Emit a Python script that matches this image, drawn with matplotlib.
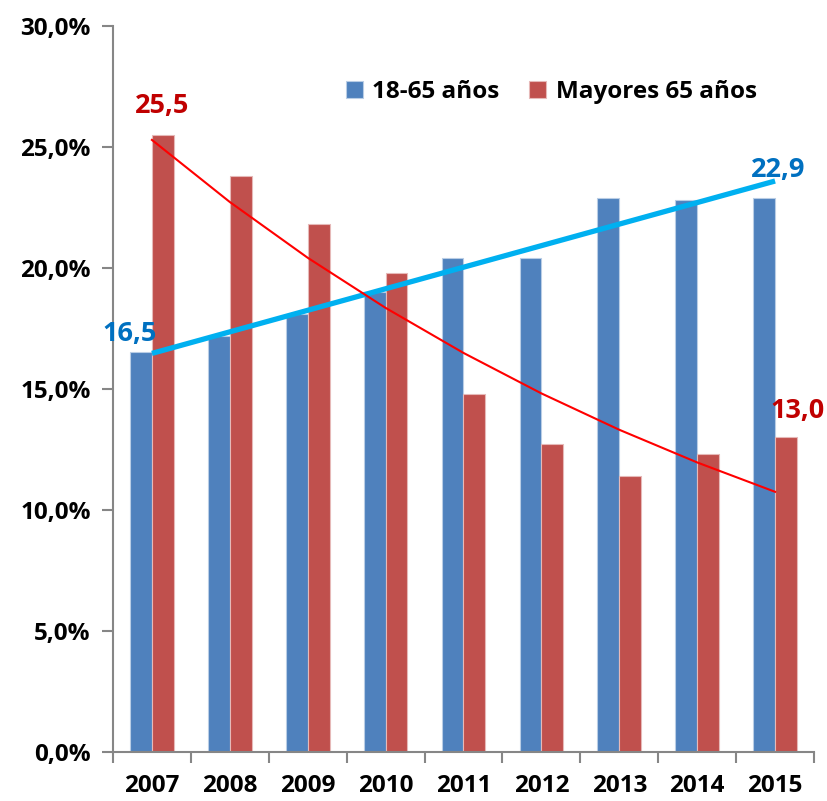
import matplotlib
matplotlib.use("Agg")
import matplotlib.pyplot as plt
import numpy as np
from matplotlib.ticker import FixedLocator, FuncFormatter

years = ["2007", "2008", "2009", "2010", "2011", "2012", "2013", "2014", "2015"]
adults = [16.5, 17.2, 18.1, 19.0, 20.4, 20.4, 22.9, 22.8, 22.9]
seniors = [25.5, 23.8, 21.8, 19.8, 14.8, 12.7, 11.4, 12.3, 13.0]
series_names = ["18-65 años", "Mayores 65 años"]

FONT = ['Open Sans', 'DejaVu Sans']
plt.rcParams['font.family'] = FONT
plt.rcParams['font.weight'] = 'bold'

fig = plt.figure(figsize=(8.27, 8.01), dpi=100)
ax = fig.add_axes([0.1366, 0.0612, 0.8477, 0.9068])

x = np.arange(len(years))
w = 0.28
ax.bar(x - w / 2, adults, w, color="#4F81BD", edgecolor="#B9CDE5", linewidth=0.8,
       label=series_names[0], zorder=2)
ax.bar(x + w / 2, seniors, w, color="#C0504D", edgecolor="#E6B9B8", linewidth=0.8,
       label=series_names[1], zorder=2)

# Trend lines (Excel-style): linear for adults, exponential for seniors
pa = np.polyfit(x, adults, 1)
ax.plot(x, np.polyval(pa, x), color="#00B0F0", linewidth=3.8, zorder=3,
        solid_capstyle="butt")
ps = np.polyfit(x, np.log(seniors), 1)
ax.plot(x, np.exp(np.polyval(ps, x)), color="#FF0000", linewidth=1.5, zorder=3)

# Data labels
lab_kw = dict(fontsize=19.5, fontweight="bold", ha="center", va="center")
ax.text(x[0] + 0.13, seniors[0] + 1.2, f"{seniors[0]:.1f}".replace(".", ","),
        color="#C00000", **lab_kw)
ax.text(x[-1] + 0.29, seniors[-1] + 1.1, f"{seniors[-1]:.1f}".replace(".", ","),
        color="#C00000", **lab_kw)
ax.text(x[0] - 0.28, adults[0] + 0.75, f"{adults[0]:.1f}".replace(".", ","),
        color="#0070C0", **lab_kw)
ax.text(x[-1] + 0.04, adults[-1] + 1.15, f"{adults[-1]:.1f}".replace(".", ","),
        color="#0070C0", **lab_kw)

ax.set_xlim(-0.5, len(years) - 0.5)
ax.set_ylim(0, 30)
ax.yaxis.set_major_locator(FixedLocator(np.arange(0, 30.1, 5)))
ax.yaxis.set_major_formatter(FuncFormatter(lambda v, p: f"{v:.1f}%".replace(".", ",")))
ax.set_xticks(x)
ax.set_xticklabels(years)
ax.set_xticks(np.arange(-0.5, len(years)), minor=True)
ax.tick_params(axis="x", which="major", length=0, pad=16, labelsize=17.5)
ax.tick_params(axis="x", which="minor", length=8, width=1.5, color="#868686", direction="out")
ax.tick_params(axis="y", which="major", length=8, width=1.5, color="#868686", pad=8,
               labelsize=17.5)
for lab in ax.get_xticklabels() + ax.get_yticklabels():
    lab.set_fontweight("bold")

for s in ["top", "right"]:
    ax.spines[s].set_visible(False)
for s in ["left", "bottom"]:
    ax.spines[s].set_color("#868686")
    ax.spines[s].set_linewidth(1.5)

leg = ax.legend(loc="center", bbox_to_anchor=(0.625, 0.909), ncol=2, frameon=False,
                prop={"family": FONT, "size": 17.5, "weight": "bold"}, handlelength=0.7,
                handleheight=0.7, handletextpad=0.4, columnspacing=1.2)

fig.savefig("out.png", dpi=100)
